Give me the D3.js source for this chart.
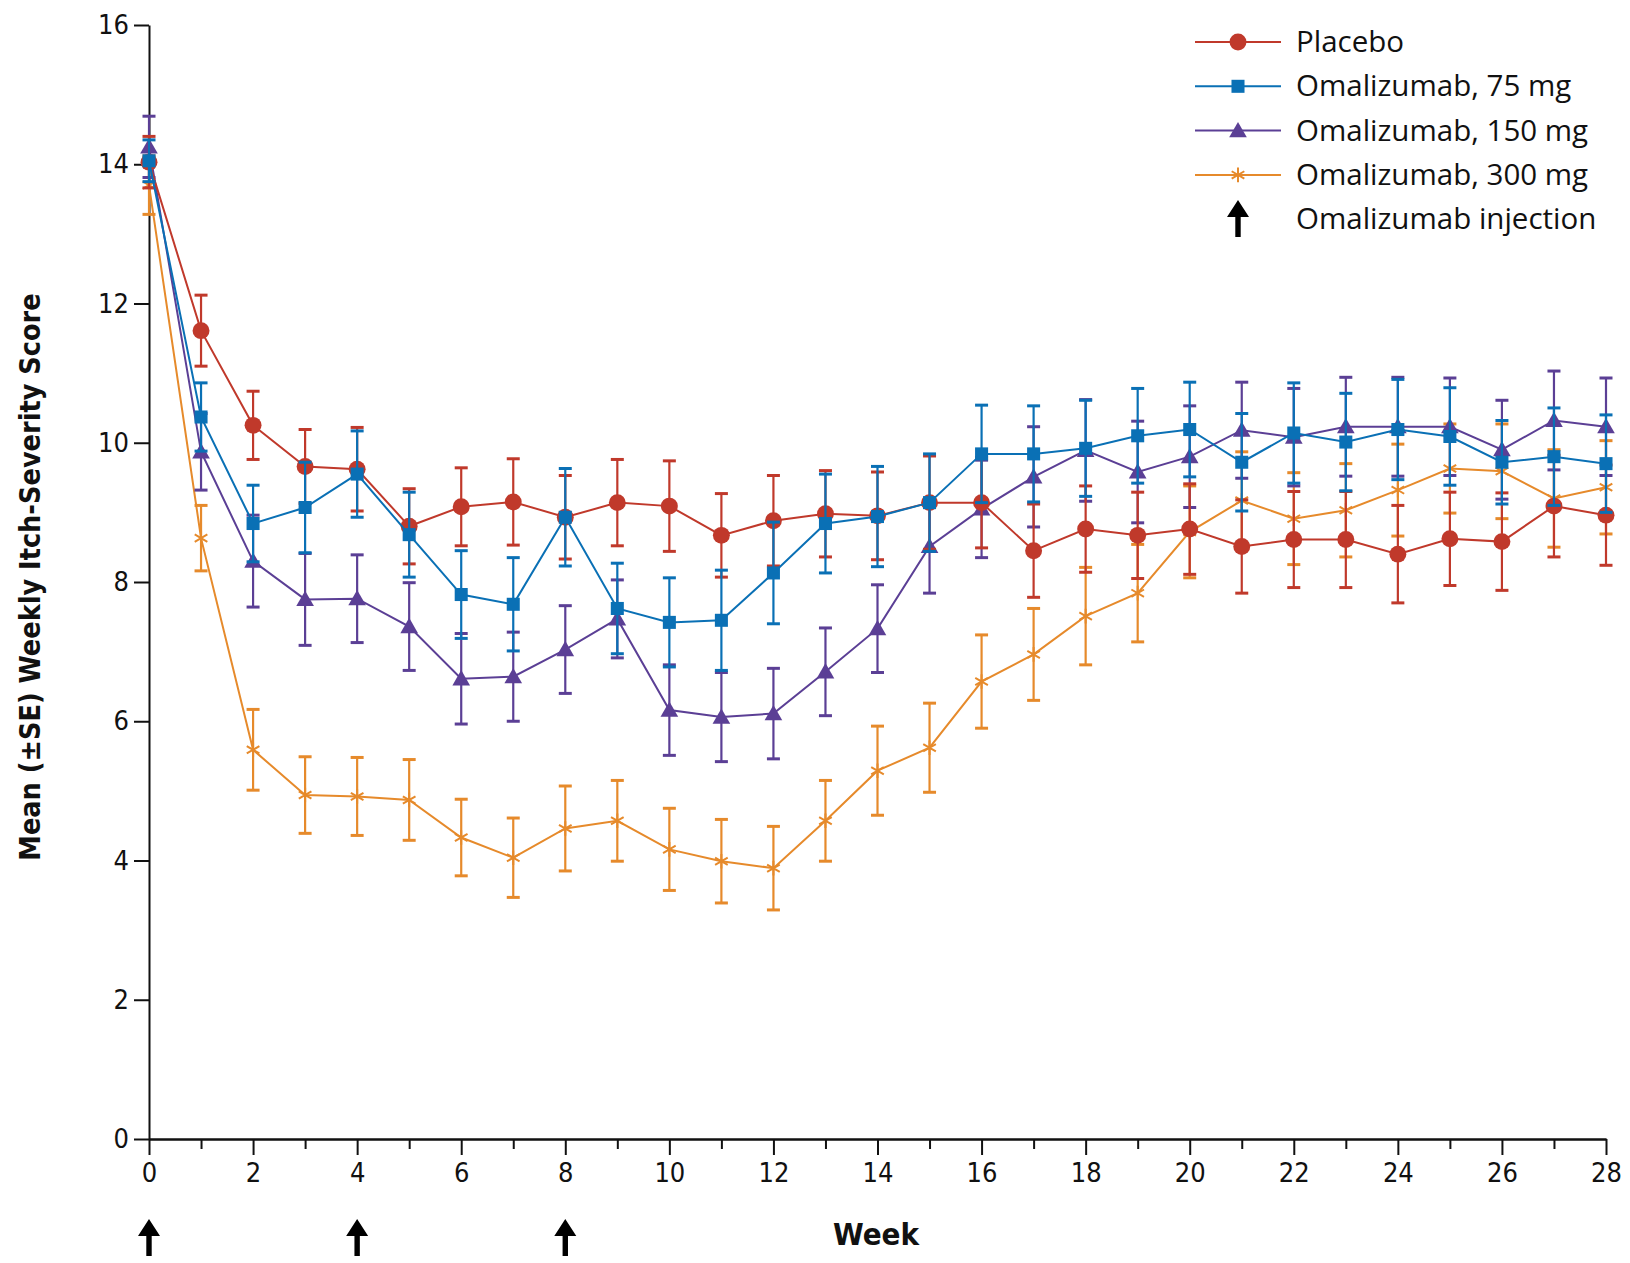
<!DOCTYPE html>
<html>
<head>
<meta charset="utf-8">
<script src="https://d3js.org/d3.v7.min.js"></script>
<style>
  body { margin: 0; background: #fff; }
  .axis path, .axis line { stroke: #111; stroke-width: 2px; }
  .axis text { font-family: "DejaVu Sans", sans-serif; font-stretch: condensed; font-size: 27px; fill: #111; }
  .legend text { font-family: "Open Sans", "Noto Sans", sans-serif; font-size: 29.5px; fill: #111; }
  .title { font-family: "DejaVu Sans", sans-serif; font-stretch: condensed; font-weight: bold; fill: #111; }
</style>
</head>
<body>
<svg id="chart"></svg>
<script>
// Weeks on the x axis
const weeks = [0, 1, 2, 3, 4, 5, 6, 7, 8, 9, 10, 11, 12, 13, 14, 15, 16, 17, 18, 19, 20, 21, 22, 23, 24, 25, 26, 27, 28];

// Mean weekly itch-severity score and its SE, one pair of arrays per group
const placeboMean = [14.03, 11.61, 10.25, 9.66, 9.62, 8.80, 9.08, 9.15, 8.93, 9.14, 9.09, 8.67, 8.88, 8.98, 8.95, 9.14, 9.14, 8.45, 8.76, 8.67, 8.76, 8.51, 8.61, 8.61, 8.40, 8.62, 8.58, 9.09, 8.96];
const placeboSE   = [0.37, 0.51, 0.49, 0.53, 0.60, 0.54, 0.56, 0.62, 0.60, 0.62, 0.65, 0.60, 0.65, 0.62, 0.63, 0.67, 0.65, 0.67, 0.62, 0.62, 0.65, 0.67, 0.69, 0.69, 0.70, 0.67, 0.70, 0.73, 0.72];

const mg75Mean = [14.05, 10.37, 8.84, 9.07, 9.55, 8.68, 7.82, 7.68, 8.93, 7.62, 7.42, 7.45, 8.13, 8.84, 8.94, 9.14, 9.84, 9.84, 9.92, 10.10, 10.19, 9.72, 10.14, 10.01, 10.19, 10.09, 9.72, 9.80, 9.70];
const mg75SE   = [0.30, 0.49, 0.55, 0.65, 0.62, 0.61, 0.63, 0.67, 0.70, 0.65, 0.64, 0.72, 0.73, 0.71, 0.72, 0.70, 0.70, 0.69, 0.69, 0.68, 0.68, 0.70, 0.72, 0.70, 0.72, 0.70, 0.60, 0.70, 0.70];

const mg150Mean = [14.25, 9.87, 8.30, 7.75, 7.76, 7.36, 6.61, 6.64, 7.03, 7.47, 6.16, 6.06, 6.11, 6.71, 7.33, 8.51, 9.05, 9.51, 9.89, 9.58, 9.80, 10.18, 10.08, 10.23, 10.23, 10.23, 9.90, 10.32, 10.23];
const mg150SE   = [0.44, 0.55, 0.66, 0.66, 0.63, 0.63, 0.65, 0.64, 0.63, 0.56, 0.65, 0.64, 0.65, 0.63, 0.63, 0.67, 0.70, 0.72, 0.73, 0.73, 0.73, 0.69, 0.70, 0.71, 0.71, 0.70, 0.71, 0.71, 0.70];

const mg300Mean = [13.70, 8.63, 5.59, 4.94, 4.92, 4.87, 4.33, 4.04, 4.46, 4.57, 4.16, 3.99, 3.89, 4.57, 5.29, 5.62, 6.57, 6.96, 7.51, 7.84, 8.72, 9.17, 8.91, 9.03, 9.32, 9.63, 9.59, 9.20, 9.36];
const mg300SE   = [0.42, 0.47, 0.58, 0.55, 0.56, 0.58, 0.55, 0.57, 0.61, 0.58, 0.59, 0.60, 0.60, 0.58, 0.64, 0.64, 0.67, 0.66, 0.70, 0.70, 0.66, 0.70, 0.66, 0.67, 0.66, 0.64, 0.68, 0.70, 0.67];

// Weeks with an omalizumab injection
const injectionWeeks = [0, 4, 8];

// Tick labels
const yTicks = [0, 2, 4, 6, 8, 10, 12, 14, 16];
const xMajorTicks = [0, 2, 4, 6, 8, 10, 12, 14, 16, 18, 20, 22, 24, 26, 28];
const xMinorTicks = [1, 3, 5, 7, 9, 11, 13, 15, 17, 19, 21, 23, 25, 27];

const legendLabels = ["Placebo", "Omalizumab, 75 mg", "Omalizumab, 150 mg", "Omalizumab, 300 mg"];

// Global-ish stuff
let config = { svg: {}, plot: {} };
let scales = {};

config.svg.width = 1630;
config.svg.height = 1263;
config.plot.left = 149;
config.plot.right = 1606;
config.plot.top = 25;
config.plot.bottom = 1139;

// Series table built from the arrays above (draw order matters: blue ends on top)
let series = [
    { key: "300", label: legendLabels[3], mean: mg300Mean, se: mg300SE, color: "#e68a2b", symbol: d3.symbolAsterisk, size: 150, hollow: true },
    { key: "150", label: legendLabels[2], mean: mg150Mean, se: mg150SE, color: "#5b3f95", symbol: d3.symbolTriangle, size: 135 },
    { key: "pl",  label: legendLabels[0], mean: placeboMean, se: placeboSE, color: "#c0392b", symbol: d3.symbolCircle, size: 225 },
    { key: "75",  label: legendLabels[1], mean: mg75Mean, se: mg75SE, color: "#0a70b5", symbol: d3.symbolSquare, size: 170 }
];

let svg = d3.select("#chart")
    .attr("width", config.svg.width)
    .attr("height", config.svg.height);

scales.x = d3.scaleLinear().domain([0, 28]).range([config.plot.left, config.plot.right]);
scales.y = d3.scaleLinear().domain([0, 16]).range([config.plot.bottom, config.plot.top]);

// Axes
svg.append("g")
    .attr("class", "axis")
    .attr("transform", translate(config.plot.left, 0))
    .call(d3.axisLeft(scales.y).tickValues(yTicks).tickSize(15).tickSizeOuter(0).tickPadding(5));

svg.append("g")
    .attr("class", "axis")
    .attr("transform", translate(0, config.plot.bottom))
    .call(d3.axisBottom(scales.x).tickValues(xMinorTicks).tickSize(10).tickSizeOuter(0).tickFormat(""));

svg.append("g")
    .attr("class", "axis")
    .attr("transform", translate(0, config.plot.bottom))
    .call(d3.axisBottom(scales.x).tickValues(xMajorTicks).tickSize(16).tickSizeOuter(0).tickPadding(8));

// Axis titles
svg.append("text")
    .attr("class", "title")
    .attr("transform", translate(40, 577) + " rotate(-90)")
    .attr("text-anchor", "middle")
    .style("font-size", "28.5px")
    .text("Mean (\u00b1SE) Weekly Itch-Severity Score");

svg.append("text")
    .attr("class", "title")
    .attr("x", 876)
    .attr("y", 1245)
    .attr("text-anchor", "middle")
    .style("font-size", "31px")
    .text("Week");

// Arrow for injection marks
function arrowPath(cx, top) {
    return "M" + cx + "," + top +
        " L" + (cx + 11) + "," + (top + 17) +
        " L" + (cx + 2.7) + "," + (top + 17) +
        " L" + (cx + 2.7) + "," + (top + 37) +
        " L" + (cx - 2.7) + "," + (top + 37) +
        " L" + (cx - 2.7) + "," + (top + 17) +
        " L" + (cx - 11) + "," + (top + 17) + " Z";
}

svg.append("g").selectAll("path")
    .data(injectionWeeks)
    .enter().append("path")
    .attr("d", d => arrowPath(scales.x(d), 1219))
    .attr("fill", "#000");

// Plot each series
let plot = svg.append("g").attr("id", "plot");
let line = d3.line().x((d, i) => scales.x(weeks[i])).y(d => scales.y(d));

for (let s of series) {
    let g = plot.append("g").attr("class", "series-" + s.key);

    g.append("path")
        .attr("d", line(s.mean))
        .attr("fill", "none")
        .attr("stroke", s.color)
        .attr("stroke-width", 2);

    let pts = weeks.map((w, i) => ({ w: w, m: s.mean[i], se: s.se[i] }));

    // Error bars
    let eb = g.append("g").attr("stroke", s.color).attr("stroke-width", 2.2);
    eb.selectAll(".stem").data(pts).enter().append("line")
        .attr("x1", d => scales.x(d.w)).attr("x2", d => scales.x(d.w))
        .attr("y1", d => scales.y(d.m - d.se)).attr("y2", d => scales.y(d.m + d.se));
    eb.selectAll(".capTop").data(pts).enter().append("line")
        .attr("stroke-width", 3)
        .attr("x1", d => scales.x(d.w) - 6.5).attr("x2", d => scales.x(d.w) + 6.5)
        .attr("y1", d => scales.y(d.m + d.se)).attr("y2", d => scales.y(d.m + d.se));
    eb.selectAll(".capBot").data(pts).enter().append("line")
        .attr("stroke-width", 3)
        .attr("x1", d => scales.x(d.w) - 6.5).attr("x2", d => scales.x(d.w) + 6.5)
        .attr("y1", d => scales.y(d.m - d.se)).attr("y2", d => scales.y(d.m - d.se));

    // Markers
    let sym = d3.symbol().type(s.symbol).size(s.size);
    g.selectAll(".mark").data(pts).enter().append("path")
        .attr("d", sym)
        .attr("transform", d => translate(scales.x(d.w), scales.y(d.m) + (s.symbol === d3.symbolTriangle ? 1.5 : 0)))
        .attr("fill", s.hollow ? "none" : s.color)
        .attr("stroke", s.hollow ? s.color : "none")
        .attr("stroke-width", 2);
}

// Legend (in original order)
let legendOrder = ["pl", "75", "150", "300"];
let legend = svg.append("g").attr("class", "legend");
legendOrder.forEach(function(key, i) {
    let s = series.find(d => d.key === key);
    let y = 42 + i * 44.3;
    legend.append("line")
        .attr("x1", 1195).attr("x2", 1281).attr("y1", y).attr("y2", y)
        .attr("stroke", s.color).attr("stroke-width", 2);
    legend.append("path")
        .attr("d", d3.symbol().type(s.symbol).size(s.size)())
        .attr("transform", translate(1238, y + (s.symbol === d3.symbolTriangle ? 1.5 : 0)))
        .attr("fill", s.hollow ? "none" : s.color)
        .attr("stroke", s.hollow ? s.color : "none")
        .attr("stroke-width", 2);
    legend.append("text")
        .attr("x", 1296).attr("y", y + 10)
        .text(s.label);
});
legend.append("path")
    .attr("d", arrowPath(1238, 200))
    .attr("fill", "#000");
legend.append("text")
    .attr("x", 1296).attr("y", 42 + 4 * 44.3 + 10)
    .text("Omalizumab injection");

function translate(x, y) {
    return "translate(" + x + "," + y + ")";
}
</script>
</body>
</html>
